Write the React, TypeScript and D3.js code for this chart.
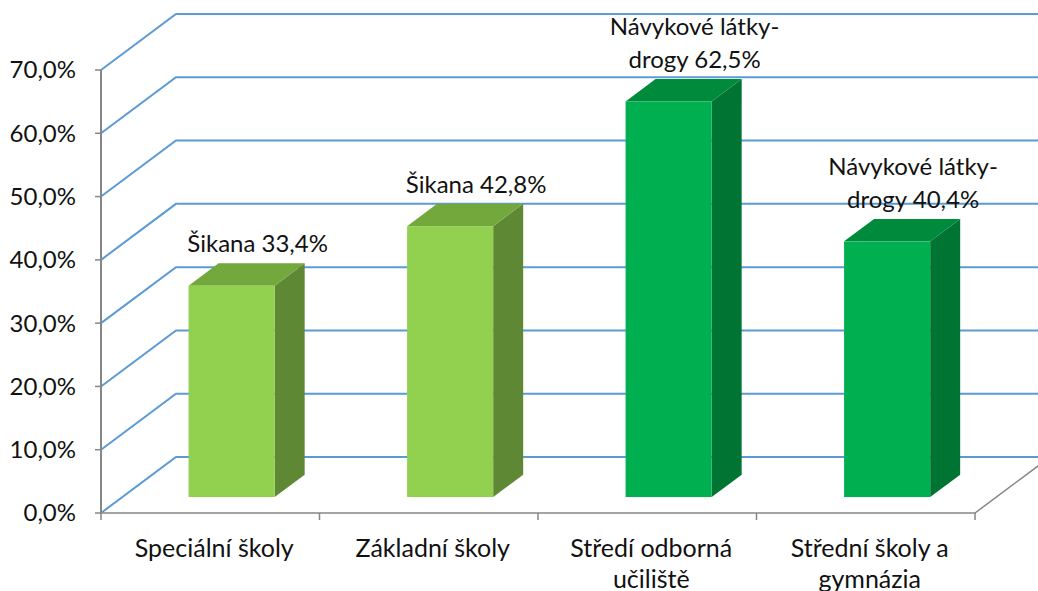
import React from 'react';
import * as d3 from 'd3';

// categories (multi-line labels split by \n)
const categories = ['Speciální školy', 'Základní školy', 'Středí odborná\nučiliště', 'Střední školy a\ngymnázia'];
const values = [33.4, 42.8, 62.5, 40.4];
const dataLabels = ['Šikana 33,4%', 'Šikana 42,8%', 'Návykové látky-\ndrogy 62,5%', 'Návykové látky-\ndrogy 40,4%'];
const palettes = ['light', 'light', 'dark', 'dark'];
const yTicks = [0, 10, 20, 30, 40, 50, 60, 70];

const colors: Record<string, { front: string; top: string; side: string }> = {
  light: { front: '#92D050', top: '#72A83C', side: '#5E8834' },
  dark: { front: '#00B050', top: '#008A3C', side: '#007533' },
};

const W = 1038;
const H = 591;
const FONT = 'Lato, "Open Sans", sans-serif';

const App: React.FC = () => {
  const left = 101;
  const right = 975;
  const y = d3.scaleLinear().domain([0, 70]).range([513, 70]);
  const x = d3
    .scaleBand<string>()
    .domain(categories)
    .range([left, right])
    .paddingInner(0.606)
    .paddingOuter(0.303);

  // depth of the floor / wall projection
  const depthX = 75;
  const depthY = -56;
  const proj = (d: number) => [depthX * d, depthY * d];
  const [bfx, bfy] = proj(0.285); // front plane of the bars
  const [bbx, bby] = proj(0.685); // back plane of the bars
  const sideDx = bbx - bfx;
  const sideDy = bby - bfy;
  const step = x.step();

  const gridColor = '#5B9BD5';
  const axisColor = '#868686';

  return (
    <svg width={W} height={H} style={{ position: 'absolute', left: 0, top: 0 }} fontFamily={FONT}>
      <rect width={W} height={H} fill="#fff" />

      {/* gridlines on left wall + back wall */}
      {yTicks.map(t => {
        const yy = y(t);
        return (
          <path
            key={t}
            d={`M${left},${yy}L${left + depthX},${yy + depthY}L${W + 20},${yy + depthY}`}
            fill="none"
            stroke={gridColor}
            strokeWidth={2}
          />
        );
      })}

      {/* floor edges */}
      <path
        d={`M${left},${y(0)}L${right},${y(0)}L${right + depthX},${y(0) + depthY}`}
        fill="none"
        stroke={axisColor}
        strokeWidth={1.5}
      />
      {/* y axis */}
      <line x1={left} x2={left} y1={y(70)} y2={y(0)} stroke={axisColor} strokeWidth={2} />
      {yTicks.map(t => (
        <g key={t}>
          <line x1={left - 6} x2={left} y1={y(t)} y2={y(t)} stroke={axisColor} strokeWidth={1.5} />
          <text x={left - 25} y={y(t)} dy="0.35em" textAnchor="end" fontSize={24} fill="#111">
            {t.toFixed(1).replace('.', ',') + '%'}
          </text>
        </g>
      ))}
      {/* category ticks */}
      {d3.range(categories.length + 1).map(i => (
        <line key={i} x1={left + i * step} x2={left + i * step} y1={y(0)} y2={y(0) + 7} stroke={axisColor} strokeWidth={1.5} />
      ))}

      {/* bars */}
      {categories.map((c, i) => {
        const c0 = colors[palettes[i]];
        const x0 = (x(c) ?? 0) + bfx;
        const x1 = x0 + x.bandwidth();
        const yb = y(0) + bfy;
        const yt = y(values[i]) + bfy;
        return (
          <g key={c}>
            <path
              d={`M${x1},${yt}L${x1 + sideDx},${yt + sideDy}L${x1 + sideDx},${yb + sideDy}L${x1},${yb}Z`}
              fill={c0.side}
            />
            <path
              d={`M${x0},${yt}L${x0 + sideDx},${yt + sideDy}L${x1 + sideDx},${yt + sideDy}L${x1},${yt}Z`}
              fill={c0.top}
            />
            <rect x={x0} y={yt} width={x1 - x0} height={yb - yt} fill={c0.front} />
          </g>
        );
      })}

      {/* data labels */}
      {categories.map((c, i) => {
        const lines = dataLabels[i].split('\n');
        const cx = (x(c) ?? 0) + bfx + x.bandwidth() / 2 + 26;
        const base = y(values[i]) + bby - 11;
        return (
          <text key={c} textAnchor="middle" fontSize={24} fill="#111">
            {lines.map((l, j) => (
              <tspan key={j} x={cx} y={base - (lines.length - 1 - j) * 33}>
                {l}
              </tspan>
            ))}
          </text>
        );
      })}

      {/* category labels */}
      {categories.map(c => {
        const lines = c.split('\n');
        const cx = (x(c) ?? 0) + x.bandwidth() / 2 + 4;
        return (
          <text key={c} textAnchor="middle" fontSize={25} fill="#111">
            {lines.map((l, j) => (
              <tspan key={j} x={cx} y={557 + j * 31}>
                {l}
              </tspan>
            ))}
          </text>
        );
      })}
    </svg>
  );
};

export default App;
